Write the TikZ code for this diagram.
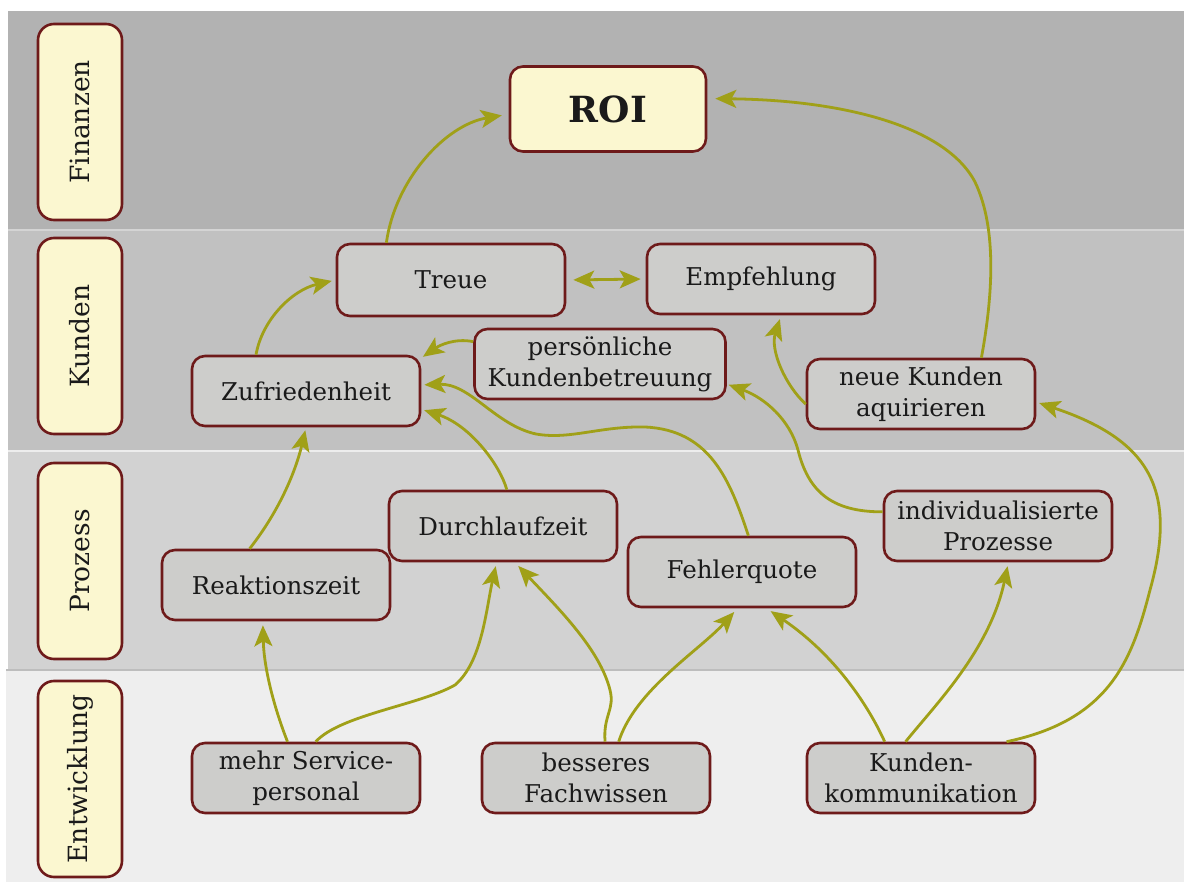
\documentclass[tikz,border=0pt]{standalone}
\usepackage{fontspec}
\setmainfont{DejaVu Serif}
\usetikzlibrary{arrows.meta,calc}
\definecolor{laneA}{HTML}{B2B2B2}
\definecolor{laneB}{HTML}{C1C1C1}
\definecolor{laneC}{HTML}{D2D2D2}
\definecolor{laneD}{HTML}{EEEEEE}
\definecolor{bordr}{HTML}{6E1A1A}
\definecolor{boxg}{HTML}{CDCDCB}
\definecolor{cream}{HTML}{FBF7D0}
\definecolor{olive}{HTML}{A0A018}
\definecolor{ink}{HTML}{1A1A1A}
\begin{document}
\begin{tikzpicture}[x=1pt,y=-1pt,
 box/.style={draw=bordr, line width=2.6pt, fill=boxg, rounded corners=13pt, minimum width=228pt, minimum height=70pt, align=center, font=\fontsize{24.5}{31}\selectfont, text=ink, inner sep=0pt},
 lanelabel/.style={draw=bordr, line width=2.6pt, fill=cream, rounded corners=16pt, minimum width=196pt, minimum height=84pt, rotate=90, font=\fontsize{26.5}{30}\selectfont, text=ink, inner sep=0pt},
 conn/.style={draw=olive, line width=2.8pt, -{Stealth[length=21pt,width=18pt,inset=5pt]}},
 sep/.style={line width=1.5pt}
]
\useasboundingbox (0,0) rectangle (1184,882);
\fill[white] (0,0) rectangle (1184,882);
% lanes
\fill[laneA] (8,11) rectangle (1184,230);
\fill[laneB] (8,230) rectangle (1184,451);
\fill[laneC] (8,451) rectangle (1184,670);
\fill[laneD] (6,670) rectangle (1184,882);
\draw[sep, color=laneB!70!white] (8,230) -- (1184,230);
\draw[sep, color=laneC!40!white] (8,451) -- (1184,451);
\draw[sep, color=laneC!90!black] (6,670) -- (1184,670);

% lane labels
\node[lanelabel] (lf) at (80,122) {Finanzen};
\node[lanelabel] (lk) at (80,336) {Kunden};
\node[lanelabel] (lp) at (80,561) {Prozess};
\node[lanelabel] (le) at (80,779) {Entwicklung};

% nodes
\node[box, fill=cream, minimum width=196pt, minimum height=85pt, font=\fontsize{36}{40}\selectfont\bfseries] (roi) at (608,109) {ROI};
\node[box, minimum height=72pt] (treue) at (451,280) {Treue};
\node[box] (empf) at (761,279) {Empfehlung};
\node[box, minimum width=251pt] (pk) at (600,364) {persönliche\\Kundenbetreuung};
\node[box] (zuf) at (306,391) {Zufriedenheit};
\node[box] (nk) at (921,394) {neue Kunden\\aquirieren};
\node[box] (dlz) at (503,526) {Durchlaufzeit};
\node[box] (rz) at (276,585) {Reaktionszeit};
\node[box] (fq) at (742,572) {Fehlerquote};
\node[box] (ip) at (998,526) {individualisierte\\Prozesse};
\node[box] (ms) at (306,778) {mehr Service-\\personal};
\node[box] (bf) at (596,778) {besseres\\Fachwissen};
\node[box] (kk) at (921,778) {Kunden-\\kommunikation};

% connectors
\draw[conn, shorten >=7pt] (treue.150) .. controls (395,180) and (445,125) .. (roi.183);
\draw[conn, shorten >=8pt] (nk.31) .. controls (992,300) and (998,230) .. (975,182) .. controls (945,125) and (840,100) .. (roi.6);
\draw[conn, {Stealth[length=21pt,width=18pt,inset=5pt]}-{Stealth[length=21pt,width=18pt,inset=5pt]}, shorten <=7pt, shorten >=5pt] (treue.east) -- (empf.west);
\draw[conn, shorten >=4pt] (zuf.144) .. controls (262,320) and (292,290) .. (treue.west);
\draw[conn, shorten >=2pt] (pk.170) .. controls (455,338) and (440,345) .. (zuf.16);
\draw[conn, shorten >=3pt] (fq.80) .. controls (730,480) and (710,430) .. (645,427) .. controls (600,426) and (570,440) .. (536,434) .. controls (495,425) and (470,383) .. (zuf.3);
\draw[conn, shorten >=3pt] (dlz.84) .. controls (500,465) and (470,425) .. (zuf.-9);
\draw[conn, shorten >=3pt] (rz.126) .. controls (280,510) and (296,470) .. (zuf.south);
\draw[conn, shorten >=4pt] (nk.185) .. controls (785,385) and (770,350) .. (empf.-61);
\draw[conn, shorten >=2pt] (ip.173) .. controls (830,512) and (808,490) .. (798,450) .. controls (790,420) and (765,398) .. (pk.-9);
\draw[conn, shorten >=4pt] (ms.117) .. controls (275,710) and (264,670) .. (rz.-110);
\draw[conn, shorten >=4pt] (ms.75) .. controls (340,715) and (420,705) .. (455,685) .. controls (482,662) and (486,610) .. (dlz.-100);
\draw[conn, shorten >=5pt] (bf.76) .. controls (603,715) and (615,710) .. (610,690) .. controls (600,650) and (560,610) .. (dlz.-72);
\draw[conn, shorten >=5pt] (bf.58) .. controls (635,690) and (700,650) .. (fq.-97);
\draw[conn, shorten >=5pt] (kk.135) .. controls (868,705) and (835,655) .. (fq.-56);
\draw[conn, shorten >=4pt] (kk.113) .. controls (935,705) and (990,650) .. (ip.-74);
\draw[conn, shorten >=3pt] (kk.23) .. controls (1110,720) and (1132,660) .. (1150,590) .. controls (1178,490) and (1150,440) .. (nk.-4);
\end{tikzpicture}
\end{document}
